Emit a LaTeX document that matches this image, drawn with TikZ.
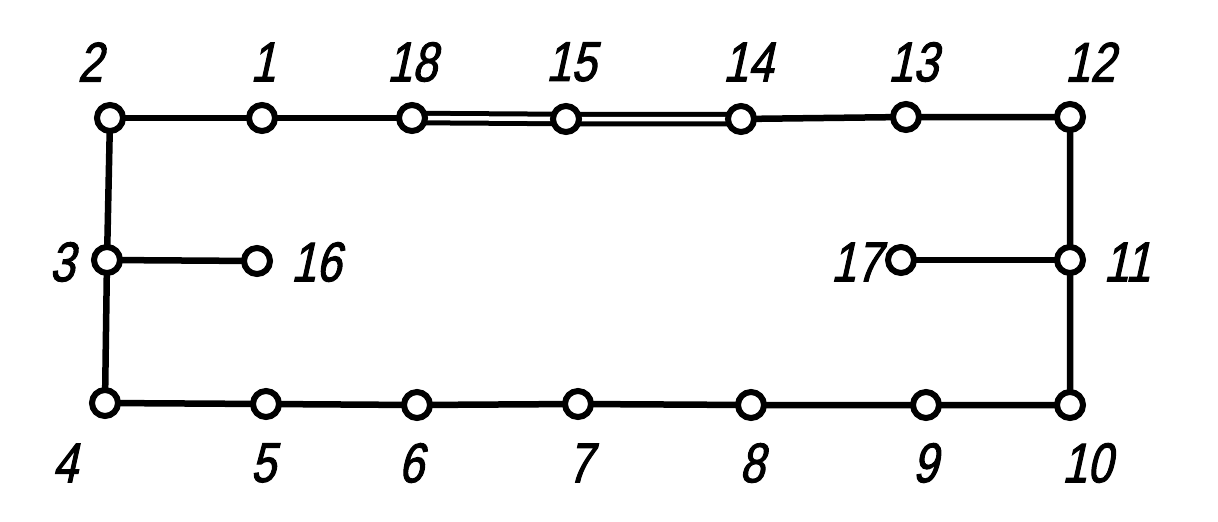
\documentclass[tikz,border=0pt]{standalone}
\usepackage{fontspec}
\setmainfont{Liberation Sans}
\newfontfamily\lblfont[FakeStretch=0.8,FakeBold=1.8,FakeSlant=0.22]{Liberation Sans}
\begin{document}
\begin{tikzpicture}[x=1pt,y=-1pt,
  vertex/.style={circle,draw,line width=6pt,fill=white,minimum size=26pt,inner sep=0pt},
  edge/.style={line width=6.5pt},
  dbl/.style={line width=5pt,double=white,double distance=4.5pt},
  lbl/.style={font=\lblfont\fontsize{56}{56}\selectfont,inner sep=0pt}]
\useasboundingbox (0,0) rectangle (1218,522);
% vertex positions
\coordinate (c2) at (110,118); \coordinate (c1) at (262,118);
\coordinate (c18) at (412,118); \coordinate (c15) at (566,119);
\coordinate (c14) at (741,119); \coordinate (c13) at (906,117);
\coordinate (c12) at (1070,117);
\coordinate (c3) at (107,260); \coordinate (c16) at (257,261);
\coordinate (c17) at (901,260); \coordinate (c11) at (1070,260);
\coordinate (c4) at (105,403); \coordinate (c5) at (266,404);
\coordinate (c6) at (417,405); \coordinate (c7) at (578,404);
\coordinate (c8) at (751,405); \coordinate (c9) at (926,405);
\coordinate (c10) at (1070,405);
% edges
\draw[edge] (c2) -- (c1) -- (c18);
\draw[dbl] (c18) -- (c15) -- (c14);
\draw[edge] (c14) -- (c13) -- (c12) -- (c11) -- (c10) -- (c9) -- (c8) -- (c7) -- (c6) -- (c5) -- (c4) -- (c3) -- (c2);
\draw[edge] (c3) -- (c16);
\draw[edge] (c17) -- (c11);
% nodes
\foreach \n in {1,...,18} { \node[vertex] (n\n) at (c\n) {}; }
% labels
\node[lbl] (l2) at (90,62) {2};
\node[lbl] (l1) at (263,62) {1};
\node[lbl] (l18) at (412,62) {18};
\node[lbl] (l15) at (571,62) {15};
\node[lbl] (l14) at (748,62) {14};
\node[lbl] (l13) at (913,62) {13};
\node[lbl] (l12) at (1090,62) {12};
\node[lbl] (l3) at (62,262) {3};
\node[lbl] (l16) at (316,262) {16};
\node[lbl] (l17) at (856,262) {17};
\node[lbl] (l11) at (1127,262) {11};
\node[lbl] (l4) at (65,463) {4};
\node[lbl] (l5) at (263,463) {5};
\node[lbl] (l6) at (411,463) {6};
\node[lbl] (l7) at (580,463) {7};
\node[lbl] (l8) at (752,463) {8};
\node[lbl] (l9) at (925,463) {9};
\node[lbl] (l10) at (1087,463) {10};
\end{tikzpicture}
\end{document}
